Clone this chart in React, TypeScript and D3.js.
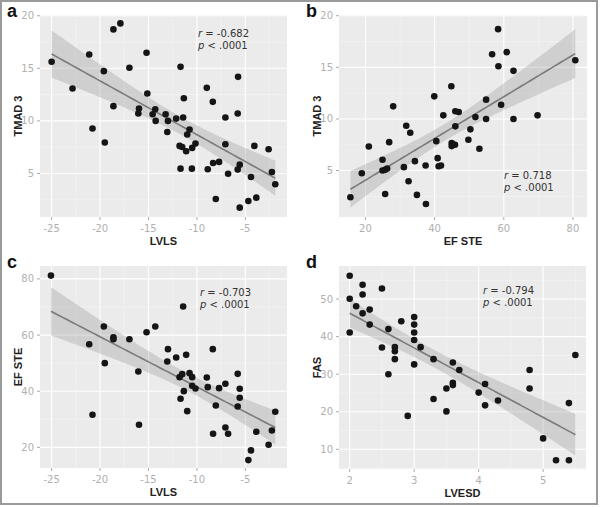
import React from "react";
import * as d3 from "d3";

// Panel a: LVLS vs TMAD 3
const aLVLS = [-25, -22.84, -21.12, -20.78, -19.61, -19.51, -18.62, -17.9, -18.62, -16.97, -15.98, -16.05, -15.2, -15.12, -14.57, -14.3, -14.26, -13.23, -12.99, -13.06, -12.14, -11.69, -11.35, -11.42, -11.79, -11.52, -11.11, -11, -10.76, -10.49, -10.15, -11.69, -10.52, -8.98, -8.36, -8.88, -8.33, -7.71, -8.05, -7.06, -7.06, -6.78, -5.75, -5.79, -5.79, -5.58, -5.58, -4.42, -4.07, -4.69, -3.87, -2.6, -2.26, -1.91];
const aTMAD = [15.62, 13.08, 16.32, 9.27, 14.73, 7.94, 18.7, 19.27, 11.4, 15.05, 11.17, 10.7, 16.48, 12.6, 10.63, 11.11, 10, 10.63, 10, 8.95, 10.22, 15.14, 12.16, 10.32, 7.62, 7.52, 7.11, 8.7, 9.17, 7.43, 7.84, 5.46, 5.46, 13.14, 11.81, 5.4, 6, 6.1, 2.57, 10.32, 7.78, 4.98, 14.19, 10.7, 5.37, 5.84, 1.75, 4.67, 7.62, 2.38, 2.7, 7.3, 5.14, 3.97];

// Panel b: EF STE vs TMAD 3
const bEF = [15.65, 18.94, 20.97, 24.93, 24.93, 25.7, 26.28, 25.7, 26.86, 28.02, 31.11, 31.79, 32.95, 32.46, 34.3, 34.88, 37.39, 37.49, 39.9, 40.48, 40.87, 41.16, 41.84, 42.51, 44.83, 44.93, 44.93, 45.41, 45.89, 45.99, 45.99, 46.96, 49.76, 50.34, 51.79, 52.95, 54.88, 54.88, 56.62, 58.36, 58.45, 59.23, 60.87, 62.8, 62.8, 69.76, 80.68];
const bTMAD = [2.41, 4.74, 7.33, 6.04, 5.0, 5.07, 5.2, 2.73, 7.75, 11.22, 5.33, 9.34, 8.66, 3.96, 5.91, 2.64, 5.49, 1.76, 12.19, 7.85, 6.2, 5.42, 5.49, 10.35, 13.16, 7.66, 7.37, 7.53, 7.5, 9.28, 10.74, 10.67, 7.98, 8.99, 10.18, 7.11, 11.87, 9.99, 16.27, 18.7, 15.11, 11.38, 16.47, 14.66, 9.99, 10.35, 15.69];

// Panel c: LVLS vs EF STE
const cLVLS = [-25.07, -21.12, -20.78, -19.61, -19.51, -18.62, -18.62, -16.97, -16.05, -15.98, -15.2, -14.3, -12.99, -13.06, -12.14, -11.42, -11.79, -11.52, -11.69, -11.35, -11.11, -11, -10.76, -10.49, -10.49, -10.15, -8.98, -8.88, -8.36, -8.33, -8.05, -7.71, -7.06, -7.06, -6.78, -5.79, -5.58, -5.58, -5.79, -4.69, -4.42, -3.87, -2.6, -2.26, -1.91];
const cEF = [81.19, 56.76, 31.62, 63.04, 50, 59.25, 58.5, 58.5, 47.03, 28.06, 61.03, 63.04, 55, 50.59, 52.01, 70.16, 45.02, 46.09, 37.31, 40.04, 52.96, 32.92, 46.44, 45.02, 41.94, 40.99, 44.9, 41.46, 55, 24.86, 34.94, 41.11, 42.65, 27.11, 24.86, 46.2, 40.87, 37.67, 34.58, 15.49, 18.93, 25.57, 20.95, 26.05, 32.69];

// Panel d: LVESD vs FAS
const dLVESD = [2.0, 2.0, 2.0, 2.1, 2.2, 2.2, 2.2, 2.31, 2.31, 2.5, 2.5, 2.6, 2.6, 2.7, 2.7, 2.7, 2.8, 2.9, 3.0, 3.0, 3.0, 3.0, 3.0, 3.1, 3.3, 3.3, 3.5, 3.5, 3.6, 3.6, 3.6, 3.7, 4.0, 4.1, 4.1, 4.3, 4.79, 4.79, 5.0, 5.2, 5.4, 5.4, 5.5];
const dFAS = [56.2, 50.1, 41.1, 48.1, 53.8, 51.2, 46.2, 47.2, 43.2, 52.8, 37.1, 42.0, 30.0, 37.2, 36.1, 34.0, 44.1, 18.9, 45.2, 43.2, 41.1, 39.1, 32.6, 37.2, 34.0, 23.4, 26.2, 20.1, 33.1, 27.7, 27.1, 31.1, 25.1, 27.4, 21.7, 23.0, 31.1, 26.2, 12.9, 7.1, 7.1, 22.3, 35.1];

// Tick labels
const ticksLVLS = [-25, -20, -15, -10, -5];
const ticksTMAD = [5, 10, 15, 20];
const ticksEF = [20, 40, 60, 80];
const ticksLVESD = [2, 3, 4, 5];
const ticksFAS = [10, 20, 30, 40, 50];

// Stats text
const panelLetters = ["a", "b", "c", "d"];
const rValues = ["-0.682", "0.718", "-0.703", "-0.794"];
const pText = "< .0001";

type Panel = {
  letter: string;
  xs: number[];
  ys: number[];
  xDomain: [number, number];
  yDomain: [number, number];
  xTicks: number[];
  yTicks: number[];
  xTitle: string;
  yTitle: string;
  rect: { x0: number; x1: number; y0: number; y1: number };
  r: string;
  txt: { x: number; y: number };
};

const panels: Panel[] = [
  {
    letter: panelLetters[0], xs: aLVLS, ys: aTMAD,
    xDomain: [-26.2, -0.7], yDomain: [0.86, 20.07],
    xTicks: ticksLVLS, yTicks: ticksTMAD, xTitle: "LVLS", yTitle: "TMAD 3",
    rect: { x0: 40, x1: 287, y0: 15, y1: 217 }, r: rValues[0], txt: { x: 198, y: 37 },
  },
  {
    letter: panelLetters[1], xs: bEF, ys: bTMAD,
    xDomain: [12.35, 84.06], yDomain: [0.5, 20.07],
    xTicks: ticksEF, yTicks: ticksTMAD, xTitle: "EF STE", yTitle: "TMAD 3",
    rect: { x0: 339, x1: 587, y0: 15, y1: 217 }, r: rValues[1], txt: { x: 504, y: 179 },
  },
  {
    letter: panelLetters[2], xs: cLVLS, ys: cEF,
    xDomain: [-26.2, -0.7], yDomain: [12.67, 84.6],
    xTicks: ticksLVLS, yTicks: ticksEF, xTitle: "LVLS", yTitle: "EF STE",
    rect: { x0: 40, x1: 287, y0: 266, y1: 468 }, r: rValues[2], txt: { x: 200, y: 296 },
  },
  {
    letter: panelLetters[3], xs: dLVESD, ys: dFAS,
    xDomain: [1.834, 5.665], yDomain: [4.76, 58.8],
    xTicks: ticksLVESD, yTicks: ticksFAS, xTitle: "LVESD", yTitle: "FAS",
    rect: { x0: 339, x1: 586, y0: 266, y1: 469 }, r: rValues[3], txt: { x: 483, y: 294 },
  },
];

function fit(xs: number[], ys: number[]) {
  const n = xs.length;
  const mx = d3.mean(xs)!;
  const my = d3.mean(ys)!;
  let sxx = 0, sxy = 0;
  for (let i = 0; i < n; i++) {
    sxx += (xs[i] - mx) ** 2;
    sxy += (xs[i] - mx) * (ys[i] - my);
  }
  const b = sxy / sxx;
  const a = my - b * mx;
  let sse = 0;
  for (let i = 0; i < n; i++) sse += (ys[i] - a - b * xs[i]) ** 2;
  const s = Math.sqrt(sse / (n - 2));
  const t = 2.01;
  const [lo, hi] = d3.extent(xs) as [number, number];
  const pts = d3.range(0, 81).map((k) => {
    const x = lo + ((hi - lo) * k) / 80;
    const yhat = a + b * x;
    const se = s * Math.sqrt(1 / n + (x - mx) ** 2 / sxx);
    return { x, y: yhat, lo: yhat - t * se, hi: yhat + t * se };
  });
  return pts;
}

function PanelView({ p }: { p: Panel }) {
  const { rect } = p;
  const x = d3.scaleLinear().domain(p.xDomain).range([rect.x0, rect.x1]);
  const y = d3.scaleLinear().domain(p.yDomain).range([rect.y1, rect.y0]);
  const xStep = p.xTicks[1] - p.xTicks[0];
  const yStep = p.yTicks[1] - p.yTicks[0];
  const minorX: number[] = [];
  for (let v = p.xTicks[0] - xStep / 2; v <= p.xDomain[1]; v += xStep) if (v >= p.xDomain[0]) minorX.push(v);
  const minorY: number[] = [];
  for (let v = p.yTicks[0] - yStep / 2; v <= p.yDomain[1]; v += yStep) if (v >= p.yDomain[0]) minorY.push(v);
  const pts = fit(p.xs, p.ys);
  const band = d3.area<any>().x((d) => x(d.x)).y0((d) => y(d.lo)).y1((d) => y(d.hi));
  const line = d3.line<any>().x((d) => x(d.x)).y((d) => y(d.y));
  const cx = (rect.x0 + rect.x1) / 2;
  const cy = (rect.y0 + rect.y1) / 2;
  const clipId = "clip-" + p.letter;
  return (
    <g>
      <defs>
        <clipPath id={clipId}>
          <rect x={rect.x0} y={rect.y0} width={rect.x1 - rect.x0} height={rect.y1 - rect.y0} />
        </clipPath>
      </defs>
      <rect x={rect.x0} y={rect.y0} width={rect.x1 - rect.x0} height={rect.y1 - rect.y0} fill="#ebebeb" />
      {minorX.map((v) => (
        <line key={"mx" + v} x1={x(v)} x2={x(v)} y1={rect.y0} y2={rect.y1} stroke="#f5f5f5" strokeWidth={0.6} />
      ))}
      {minorY.map((v) => (
        <line key={"my" + v} y1={y(v)} y2={y(v)} x1={rect.x0} x2={rect.x1} stroke="#f5f5f5" strokeWidth={0.6} />
      ))}
      {p.xTicks.map((v) => (
        <line key={"gx" + v} x1={x(v)} x2={x(v)} y1={rect.y0} y2={rect.y1} stroke="#fff" strokeWidth={1.1} />
      ))}
      {p.yTicks.map((v) => (
        <line key={"gy" + v} y1={y(v)} y2={y(v)} x1={rect.x0} x2={rect.x1} stroke="#fff" strokeWidth={1.1} />
      ))}
      <g clipPath={`url(#${clipId})`}>
        <path d={band(pts)!} fill="#999" fillOpacity={0.33} />
        <path d={line(pts)!} fill="none" stroke="#7a7a7a" strokeWidth={1.6} />
        {p.xs.map((xv, i) => (
          <circle key={i} cx={x(xv)} cy={y(p.ys[i])} r={3.3} fill="#151515" />
        ))}
      </g>
      {/* ticks */}
      {p.xTicks.map((v) => (
        <g key={"tx" + v}>
          <line x1={x(v)} x2={x(v)} y1={rect.y1} y2={rect.y1 + 3} stroke="#aaa" />
          <text x={x(v)} y={rect.y1 + 15} textAnchor="middle" fontSize={10} fill="#b0b0b0" fontFamily="'DejaVu Sans', sans-serif">
            {v}
          </text>
        </g>
      ))}
      {p.yTicks.map((v) => (
        <g key={"ty" + v}>
          <line x1={rect.x0 - 3} x2={rect.x0} y1={y(v)} y2={y(v)} stroke="#aaa" />
          <text x={rect.x0 - 6} y={y(v) + 3.5} textAnchor="end" fontSize={10} fill="#b0b0b0" fontFamily="'DejaVu Sans', sans-serif">
            {v}
          </text>
        </g>
      ))}
      <text x={cx} y={rect.y1 + 28} textAnchor="middle" fontSize={11} fontWeight="bold" fill="#222" fontFamily="'Liberation Sans', Arial, sans-serif">
        {p.xTitle}
      </text>
      <text
        transform={`translate(${rect.x0 - 18},${cy}) rotate(-90)`}
        textAnchor="middle"
        fontSize={11}
        fontWeight="bold"
        fill="#222"
        fontFamily="'Liberation Sans', Arial, sans-serif"
      >
        {p.yTitle}
      </text>
      <text x={rect.x0 - 33} y={rect.y0 + 2} fontSize={18} fontWeight="bold" fill="#111" fontFamily="'Liberation Sans', Arial, sans-serif">
        {p.letter}
      </text>
      <text x={p.txt.x} y={p.txt.y} fontSize={10} fill="#333" fontFamily="'DejaVu Sans', sans-serif">
        <tspan fontStyle="italic">r</tspan>
        <tspan>{" = " + p.r}</tspan>
      </text>
      <text x={p.txt.x} y={p.txt.y + 11.5} fontSize={10} fill="#333" fontFamily="'DejaVu Sans', sans-serif">
        <tspan fontStyle="italic">p</tspan>
        <tspan>{" " + pText}</tspan>
      </text>
    </g>
  );
}

export default function App() {
  return (
    <svg width={600} height={507} style={{ position: "absolute", left: 0, top: 0, background: "#fff" }}>
      <rect x={0} y={0} width={600} height={507} fill="#fff" />
      <rect x={1} y={1} width={596} height={503} fill="none" stroke="#9a9a9a" strokeWidth={2} />
      {panels.map((p) => (
        <PanelView key={p.letter} p={p} />
      ))}
    </svg>
  );
}
